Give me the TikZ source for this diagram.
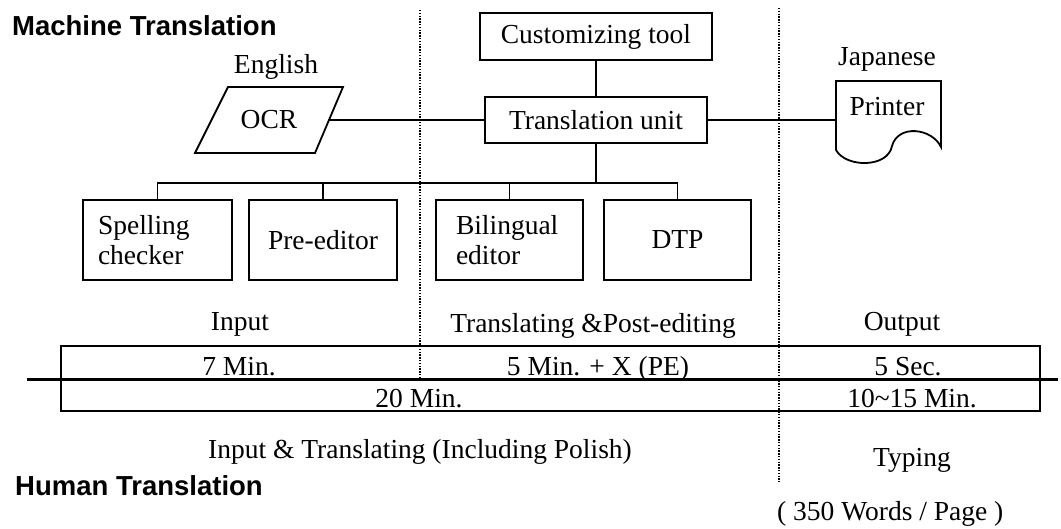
\documentclass[tikz,border=0pt]{standalone}
\usepackage{fontspec}
\setmainfont{Liberation Serif}
\setsansfont{Liberation Sans}
\begin{document}
\begin{tikzpicture}[x=1pt,y=-1pt,
  every node/.style={font=\fontsize{27.5}{30}\selectfont, inner sep=0pt},
  title/.style={font=\fontsize{27.5}{30}\selectfont\sffamily\bfseries, anchor=base west},
  lbl/.style={anchor=base},
  box/.style={draw, line width=1.8pt},
  conn/.style={line width=1.6pt},
  dotline/.style={line width=1.4pt, dash pattern=on 1.4pt off 1.4pt},
  tline/.style={line width=1.8pt}]
\useasboundingbox (0,0) rectangle (1061,528);

% titles
\node[title] (mt) at (12,35) {Machine Translation};
\node[title] (ht) at (15,495) {Human Translation};

% top part
\node[lbl] (eng) at (276,73) {English};
\draw[box] (228,87) -- (343,87) -- (315,153) -- (195,153) -- cycle;
\node (ocr) at (269,120) {OCR};
\coordinate (ocrR) at (329,120);

\node[box, minimum width=232, minimum height=47] (cust) at (596,36.5) {Customizing tool};
\node[box, minimum width=222, minimum height=46] (tu) at (596,120) {Translation unit};

\node[lbl] (jap) at (887,65) {Japanese};
\draw[box] (836,81) -- (941,81) -- (941,147)
  .. controls (932,128) and (898,124) .. (892,146)
  .. controls (888,168) and (846,168) .. (836,150) -- cycle;
\node[lbl] (pr) at (887,115) {Printer};
\coordinate (prL) at (836,120);

% tool boxes
\node[box, minimum width=149, minimum height=80, text width=119, inner xsep=15, align=left] (sc) at (157.5,240) {Spelling\\checker};
\node[box, minimum width=148, minimum height=80] (pe) at (323,240) {Pre-editor};
\node[box, minimum width=147, minimum height=80, text width=107, inner xsep=20, align=left] (be) at (509.5,240) {Bilingual\\editor};
\node[box, minimum width=147, minimum height=80] (dtp) at (677.5,240) {DTP};

\coordinate (bus) at (596,183);

% connectors
\draw[conn] (cust.south) -- (tu.north);
\draw[conn] (ocrR) -- (tu.west);
\draw[conn] (tu.east) -- (prL);
\draw[conn] (tu.south) -- (bus);
\draw[conn] (sc.north) |- (bus) -| (dtp.north);
\draw[conn] (pe.north) -- (pe.north |- bus);
\draw[conn] (be.north) -- (be.north |- bus);

% phase labels
\node[lbl] (inp) at (240,330) {Input};
\node[lbl] (tpe) at (593,332) {Translating \&Post-editing};
\node[lbl] (out) at (902,330) {Output};

% dotted separators
\draw[dotline] (420,10) -- (420,379);
\draw[dotline] (779,8) -- (779,482);

% table
\draw[tline] (61,346) rectangle (1040,411);
\draw[line width=3pt] (27,379) -- (1058,379);
\node[lbl] (r1a) at (239,375) {7 Min.};
\node[lbl] (r1b) at (598,375) {5 Min. + X (PE)};
\node[lbl] (r1c) at (908,375) {5 Sec.};
\node[lbl] (r2a) at (419,407) {20 Min.};
\node[lbl] (r2b) at (912,407) {10\textasciitilde15 Min.};

% human translation labels
\node[lbl] (itp) at (420,458) {Input \& Translating (Including Polish)};
\node[lbl] (typ) at (912,466) {Typing};
\node[anchor=base west] (wpp) at (777,520) {( 350 Words / Page )};
\end{tikzpicture}
\end{document}
